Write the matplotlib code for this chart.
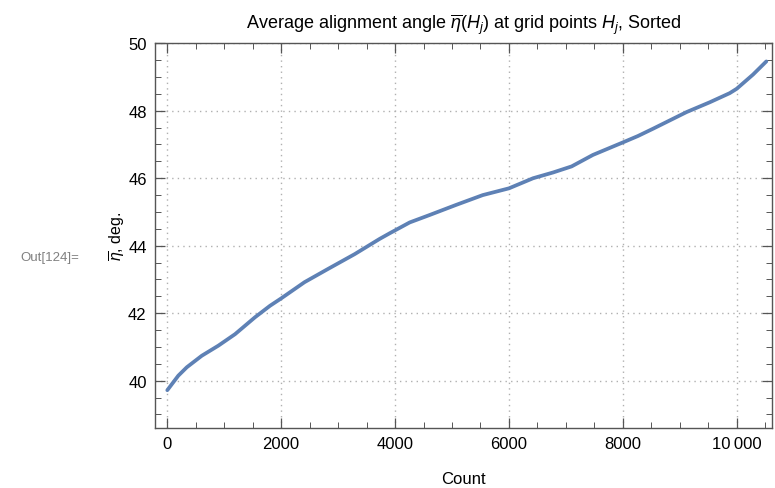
import matplotlib
matplotlib.use("Agg")
import matplotlib.pyplot as plt
from matplotlib.ticker import MultipleLocator, FuncFormatter

plt.rcParams['font.family'] = ['Liberation Sans', 'DejaVu Sans']
plt.rcParams['mathtext.fontset'] = 'custom'
plt.rcParams['mathtext.rm'] = 'Liberation Sans'
plt.rcParams['mathtext.it'] = 'Liberation Sans:italic'

# Sorted average alignment angle per grid point
count = [0, 193, 343, 605, 897, 1190, 1540, 1803, 2000, 2410, 2820, 3290,
         3727, 3907, 4257, 4607, 5073, 5540, 6000, 6425, 6775, 7101, 7475,
         8000, 8265, 8535, 9120, 9527, 9877, 10000, 10286, 10520]
eta_deg = [39.72, 40.15, 40.40, 40.74, 41.04, 41.38, 41.88, 42.22, 42.44,
           42.92, 43.31, 43.75, 44.20, 44.37, 44.69, 44.91, 45.21, 45.50,
           45.70, 46.00, 46.17, 46.35, 46.69, 47.06, 47.25, 47.47, 47.96,
           48.25, 48.52, 48.65, 49.07, 49.46]

x_ticks = [0, 2000, 4000, 6000, 8000, 10000]
y_ticks = [40, 42, 44, 46, 48, 50]

fig = plt.figure(figsize=(7.75, 4.89), dpi=100)
ax = fig.add_axes([155 / 775, 1 - 429 / 489, (772 - 155) / 775, (429 - 44) / 489])

ax.plot(count, eta_deg, color='#5E81B5', lw=2.7, solid_capstyle='round',
        solid_joinstyle='round')

ax.set_xlim(-216, 10620)
ax.set_ylim(38.6, 50.006)

ax.set_xticks(x_ticks)
ax.set_yticks(y_ticks)
ax.xaxis.set_minor_locator(MultipleLocator(500))
ax.yaxis.set_minor_locator(MultipleLocator(0.5))


def fmt_x(v, pos):
    s = f"{int(v)}"
    if len(s) > 4:
        s = s[:-3] + "\u2009" + s[-3:]
    return s


ax.xaxis.set_major_formatter(FuncFormatter(fmt_x))

frame_col = '#555555'
for sp in ax.spines.values():
    sp.set_color(frame_col)
    sp.set_linewidth(1.0)

ax.tick_params(which='both', direction='in', top=True, right=True,
               color=frame_col, labelsize=12, labelcolor='black')
ax.tick_params(which='major', length=7, width=0.9, pad=6)
ax.tick_params(which='minor', length=4, width=0.7)

ax.grid(True, which='major', color='#b0b0b0', linestyle=(0, (1, 3)), lw=1.0)

ax.set_title(r'Average alignment angle $\overline{\eta}(H_j)$ at grid points $H_j$, Sorted',
             fontsize=13, pad=11)
ax.set_xlabel('Count', fontsize=12, labelpad=14)
ax.set_ylabel(r'$\overline{\eta}$, deg.', fontsize=11.5, labelpad=0)

fig.text(20 / 775, 1 - 258 / 489, 'Out[124]=', color='#808080', fontsize=9.5,
         ha='left', va='center')

fig.savefig('out.png', dpi=100)
